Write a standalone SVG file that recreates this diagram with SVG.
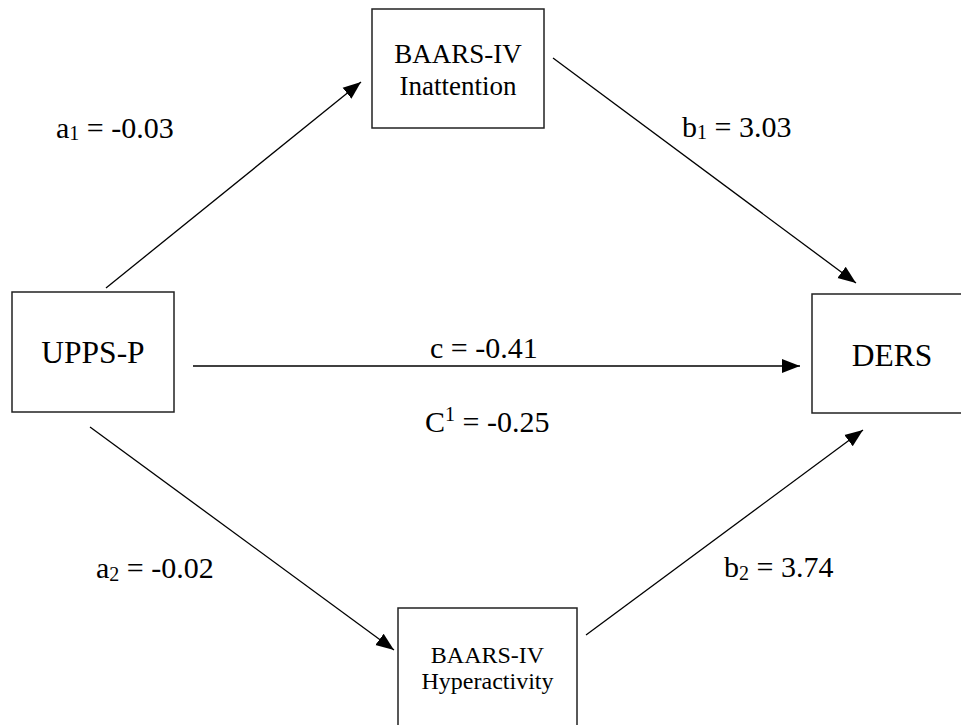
<svg xmlns="http://www.w3.org/2000/svg" width="961" height="725" viewBox="0 0 961 725">
<style>
.box{fill:#fff;stroke:#222;stroke-width:1.5}
.edge{stroke:#000;stroke-width:1.3;fill:none}
text{font-family:'Liberation Serif',serif;fill:#000}
</style>
<defs>
<marker id="ah" markerUnits="userSpaceOnUse" markerWidth="20" markerHeight="16" refX="18" refY="8" orient="auto">
<path d="M0,1 L18,8 L0,15 z" fill="#000"/>
</marker>
</defs>
<rect width="961" height="725" fill="#fff"/>
<g id="connectors">
<line class="edge" x1="106" y1="288" x2="361" y2="82" marker-end="url(#ah)"/>
<line class="edge" x1="553" y1="58" x2="856" y2="283" marker-end="url(#ah)"/>
<line class="edge" x1="193" y1="366" x2="800" y2="366" marker-end="url(#ah)"/>
<line class="edge" x1="90" y1="427" x2="394" y2="650" marker-end="url(#ah)"/>
<line class="edge" x1="586" y1="635" x2="863" y2="430" marker-end="url(#ah)"/>
</g>
<g id="node-inattention">
<rect class="box" x="372" y="9" width="172" height="119"/>
<text font-family="Liberation Serif, serif" x="458" y="63" font-size="27" text-anchor="middle">BAARS-IV</text>
<text font-family="Liberation Serif, serif" x="458" y="95" font-size="27" text-anchor="middle">Inattention</text>
</g>
<g id="node-upps">
<rect class="box" x="12" y="292" width="162" height="120"/>
<text font-family="Liberation Serif, serif" x="93" y="363" font-size="31.5" text-anchor="middle">UPPS-P</text>
</g>
<g id="node-ders">
<rect class="box" x="812" y="294" width="160" height="119"/>
<text font-family="Liberation Serif, serif" x="892" y="366" font-size="31.5" text-anchor="middle">DERS</text>
</g>
<g id="node-hyperactivity">
<rect class="box" x="398" y="608" width="179" height="130"/>
<text font-family="Liberation Serif, serif" x="487.5" y="663" font-size="24" text-anchor="middle">BAARS-IV</text>
<text font-family="Liberation Serif, serif" x="487.5" y="689" font-size="24" text-anchor="middle">Hyperactivity</text>
</g>
<g id="labels">
<text font-family="Liberation Serif, serif" font-size="30" x="56" y="138">a<tspan font-size="20" dy="2">1</tspan><tspan dy="-2"> = -0.03</tspan></text>
<text font-family="Liberation Serif, serif" font-size="30" x="682" y="137">b<tspan font-size="20" dy="2">1</tspan><tspan dy="-2"> = 3.03</tspan></text>
<text font-family="Liberation Serif, serif" font-size="30" x="96" y="578">a<tspan font-size="20" dy="3">2</tspan><tspan dy="-3"> = -0.02</tspan></text>
<text font-family="Liberation Serif, serif" font-size="30" x="724" y="577">b<tspan font-size="20" dy="3">2</tspan><tspan dy="-3"> = 3.74</tspan></text>
<text font-family="Liberation Serif, serif" font-size="30" x="430" y="358">c = -0.41</text>
<text font-family="Liberation Serif, serif" font-size="30" x="425" y="432">C<tspan font-size="20" dy="-11">1</tspan><tspan dy="11"> = -0.25</tspan></text>
</g>
</svg>
